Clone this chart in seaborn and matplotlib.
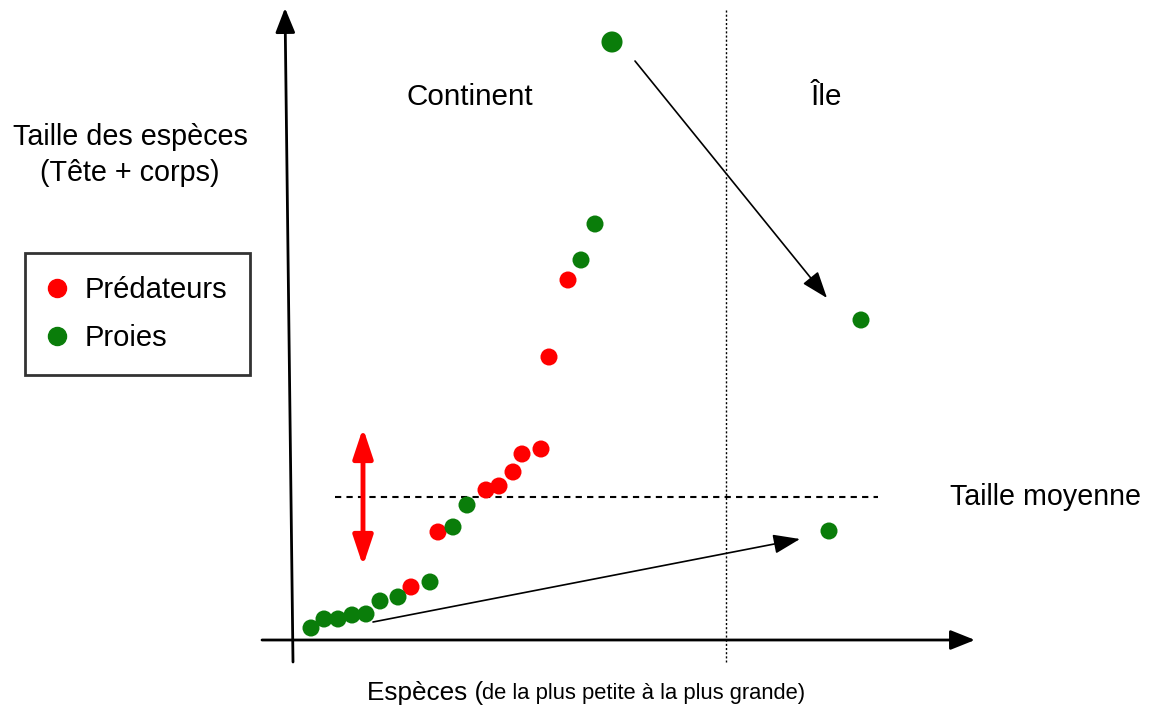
import pandas as pd
import seaborn as sns
import matplotlib.pyplot as plt
from matplotlib.lines import Line2D

# --- Données (positions, en pixels) ---
pred_x = [411, 438, 486, 499, 513, 522, 541, 549, 568]
pred_y = [587, 532, 490, 486, 472, 454, 449, 357, 280]

proie_x = [311, 324, 338, 352, 366, 380, 398, 430, 453, 467, 581, 595, 612, 829, 861]
proie_y = [628, 619, 619, 615, 614, 601, 597, 582, 527, 505, 260, 224, 42, 531, 320]
proie_taille = ['normal'] * 12 + ['grand', 'normal', 'normal']

groupes = ['Prédateurs', 'Proies']
couleurs = {'Prédateurs': '#ff0000', 'Proies': '#0a7d0a'}

df = pd.DataFrame({
    'x': pred_x + proie_x,
    'y': pred_y + proie_y,
    'groupe': ['Prédateurs'] * len(pred_x) + ['Proies'] * len(proie_x),
    'taille': ['normal'] * len(pred_x) + proie_taille,
})

sns.set_style('white')
plt.rcParams['font.family'] = ['Liberation Sans', 'DejaVu Sans']
plt.rcParams['text.color'] = 'black'

fig = plt.figure(figsize=(11.49, 7.11), dpi=100)
ax = fig.add_axes([0, 0, 1, 1])

# axes dessinés à la main (flèches)
fleche_axe = dict(arrowstyle='-|>,head_length=0.5,head_width=0.2', color='black',
                  lw=2, mutation_scale=30, shrinkA=0, shrinkB=0)
ax.annotate('', xy=(285, 8), xytext=(293, 662), arrowprops=fleche_axe)
ax.annotate('', xy=(975, 640), xytext=(262, 640), arrowprops=fleche_axe)

# lignes repères
ax.plot([335, 878], [497, 497], color='black', lw=1.5, ls=(0, (3, 2.5)))
ax.plot([726, 726], [10, 662], color='black', lw=1, ls=(0, (1.5, 1.5)))

# points
sns.scatterplot(
    data=df, x='x', y='y', hue='groupe', size='taille',
    palette=couleurs, sizes={'normal': 150, 'grand': 230},
    linewidth=0, legend=False, ax=ax, zorder=3
)
ax.set_xlim(0, 1149)
ax.set_ylim(711, 0)
ax.axis('off')

# flèches
ax.annotate('', xy=(363, 566), xytext=(363, 428),
            arrowprops=dict(arrowstyle='<|-|>,head_length=0.6,head_width=0.2',
                            color='#ff0000', lw=3.5, mutation_scale=30,
                            shrinkA=0, shrinkB=0))
fleche = dict(arrowstyle='-|>,head_length=0.55,head_width=0.2', color='black',
              lw=1.2, mutation_scale=30, shrinkA=0, shrinkB=0)
ax.annotate('', xy=(827, 298), xytext=(635, 61), arrowprops=fleche)
ax.annotate('', xy=(800, 539), xytext=(373, 622), arrowprops=fleche)

# textes
ax.text(130, 155, 'Taille des espèces\n(Tête + corps)', ha='center', va='center',
        fontsize=20.7, linespacing=1.4)
ax.text(470, 97, 'Continent', ha='center', va='center', fontsize=21.3)
ax.text(826, 97, 'Île', ha='center', va='center', fontsize=21.3)
ax.text(1045, 497, 'Taille moyenne', ha='center', va='center', fontsize=20.6)
t1 = ax.text(367, 700, 'Espèces (', ha='left', va='baseline', fontsize=18.8)
ax.annotate('de la plus petite à la plus grande)', xy=(1, 0), xycoords=t1,
            xytext=(-1, 1), textcoords='offset points',
            ha='left', va='bottom', fontsize=15.8)

# légende
handles = [Line2D([], [], marker='o', ls='', color=couleurs[g], markersize=13) for g in groupes]
leg = ax.legend(handles, groupes, loc='upper left',
                bbox_to_anchor=(25 / 1149, 1 - 253 / 711), bbox_transform=fig.transFigure,
                fontsize=21, frameon=True, fancybox=False, borderaxespad=0,
                borderpad=0.78, handlelength=0.65, handletextpad=0.6, labelspacing=0.7)
leg.get_frame().set_edgecolor('black')
leg.get_frame().set_linewidth(2)
for t in leg.get_texts():
    t.set_color('black')

plt.savefig('out.png', dpi=100)
